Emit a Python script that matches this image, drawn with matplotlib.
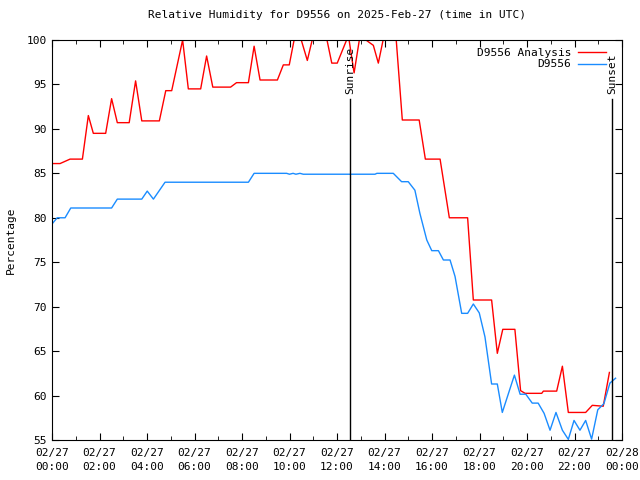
import datetime as dt
import matplotlib
matplotlib.use('Agg')
import matplotlib.pyplot as plt
import matplotlib.dates as mdates

# hours after 2025-02-27 00:00 UTC and relative humidity (%)
analysis_hours = [0.0, 0.34, 0.76, 1.28, 1.53, 1.74, 2.26, 2.51, 2.75, 3.25, 3.52, 3.78,
                  4.52, 4.79, 5.04, 5.50, 5.74, 6.26, 6.51, 6.77, 7.52, 7.77, 8.27, 8.51,
                  8.76, 9.49, 9.74, 9.99, 10.23, 10.44, 10.75, 11.0, 11.54, 11.78, 12.01,
                  12.48, 12.72, 12.97, 13.32, 13.53, 13.74, 13.98, 14.48, 14.75, 15.46,
                  15.72, 16.34, 16.73, 17.5, 17.74, 18.51, 18.75, 18.98, 19.49, 19.73,
                  19.92, 20.62, 20.69, 21.25, 21.49, 21.74, 22.47, 22.75, 23.21, 23.47]
analysis_rh = [86.1, 86.1, 86.6, 86.6, 91.5, 89.5, 89.5, 93.4, 90.7, 90.7, 95.4, 90.9,
               90.9, 94.3, 94.3, 100.0, 94.5, 94.5, 98.2, 94.7, 94.7, 95.2, 95.2, 99.3,
               95.5, 95.5, 97.2, 97.2, 100.5, 100.5, 97.7, 100.5, 100.5, 97.4, 97.4,
               100.5, 96.3, 100.5, 99.8, 99.4, 97.4, 100.5, 100.5, 91.0, 91.0,
               86.6, 86.6, 80.0, 80.0, 70.75, 70.75, 64.75, 67.45, 67.45, 60.55,
               60.25, 60.25, 60.5, 60.5, 63.3, 58.1, 58.1, 58.9, 58.8, 62.6]

obs_hours = [0.0, 0.22, 0.55, 0.79, 2.51, 2.75, 3.78, 4.01, 4.27, 4.76, 8.27, 8.51,
             9.88, 10.0, 10.15, 10.27, 10.44, 10.58, 13.6, 13.68, 14.37, 14.72, 15.0,
             15.28, 15.49, 15.78, 15.99, 16.27, 16.48, 16.76, 16.97, 17.25, 17.5,
             17.74, 17.99, 18.23, 18.51, 18.75, 18.96, 19.47, 19.71, 19.95, 20.22,
             20.47, 20.72, 20.97, 21.22, 21.49, 21.74, 21.98, 22.23, 22.47, 22.72,
             22.98, 23.24, 23.49, 23.73]
obs_rh = [79.3, 80.0, 80.0, 81.1, 81.1, 82.1, 82.1, 83.0, 82.1, 84.0, 84.0, 85.0,
          85.0, 84.9, 85.0, 84.9, 85.0, 84.9, 84.9, 85.0, 85.0, 84.06, 84.06,
          83.1, 80.5, 77.5, 76.3, 76.3, 75.25, 75.25, 73.4, 69.25, 69.25,
          70.3, 69.3, 66.6, 61.3, 61.3, 58.1, 62.3, 60.15, 60.15, 59.15,
          59.15, 58.0, 56.1, 58.1, 56.1, 55.07, 57.2, 56.1, 57.2, 55.1,
          58.4, 59.1, 61.4, 61.95]

sunrise_hour = 12.55
sunset_hour = 23.58

day0 = dt.datetime(2025, 2, 27)
to_time = lambda hs: [day0 + dt.timedelta(hours=h) for h in hs]

plt.rcParams['font.family'] = 'DejaVu Sans Mono'
plt.rcParams['font.size'] = 8

fig = plt.figure(figsize=(6.4, 4.8), dpi=100)
ax = fig.add_axes([52 / 640, 40 / 480, 570 / 640, 400 / 480])

ax.plot(to_time(analysis_hours), analysis_rh, color='#ff0000', lw=1, label='D9556 Analysis')
ax.plot(to_time(obs_hours), obs_rh, color='#1a8cff', lw=1, label='D9556')

# sunrise / sunset markers
for h, name in [(sunrise_hour, 'Sunrise'), (sunset_hour, 'Sunset')]:
    t = day0 + dt.timedelta(hours=h)
    ax.plot([t, t], [55, 93.4], color='black', lw=1)
    ax.text(t, 93.9, name, rotation=90, ha='center', va='bottom', fontsize=8)

ax.set_xlim(day0, day0 + dt.timedelta(hours=24))
ax.set_ylim(55, 100)
ax.set_yticks(range(55, 101, 5))
ax.xaxis.set_major_locator(mdates.HourLocator(byhour=range(0, 24, 2)))
ax.xaxis.set_minor_locator(mdates.HourLocator())
ax.xaxis.set_major_formatter(mdates.DateFormatter('%m/%d\n%H:%M'))
ax.tick_params(which='both', direction='in', top=True, right=True)
ax.tick_params(which='major', length=5)
ax.tick_params(which='minor', length=3)
ax.tick_params(axis='x', pad=6)
for lbl in ax.get_xticklabels():
    lbl.set_linespacing(1.4)

ax.set_title('Relative Humidity for D9556 on 2025-Feb-27 (time in UTC)', fontsize=8, pad=16)
ax.set_ylabel('Percentage', labelpad=8)

ax.legend(loc='upper right', frameon=False, markerfirst=False, handlelength=2.5,
          borderaxespad=0.3, labelspacing=0.15, handletextpad=0.6,
          bbox_to_anchor=(0.985, 1.0))

fig.savefig('out.png', dpi=100)
